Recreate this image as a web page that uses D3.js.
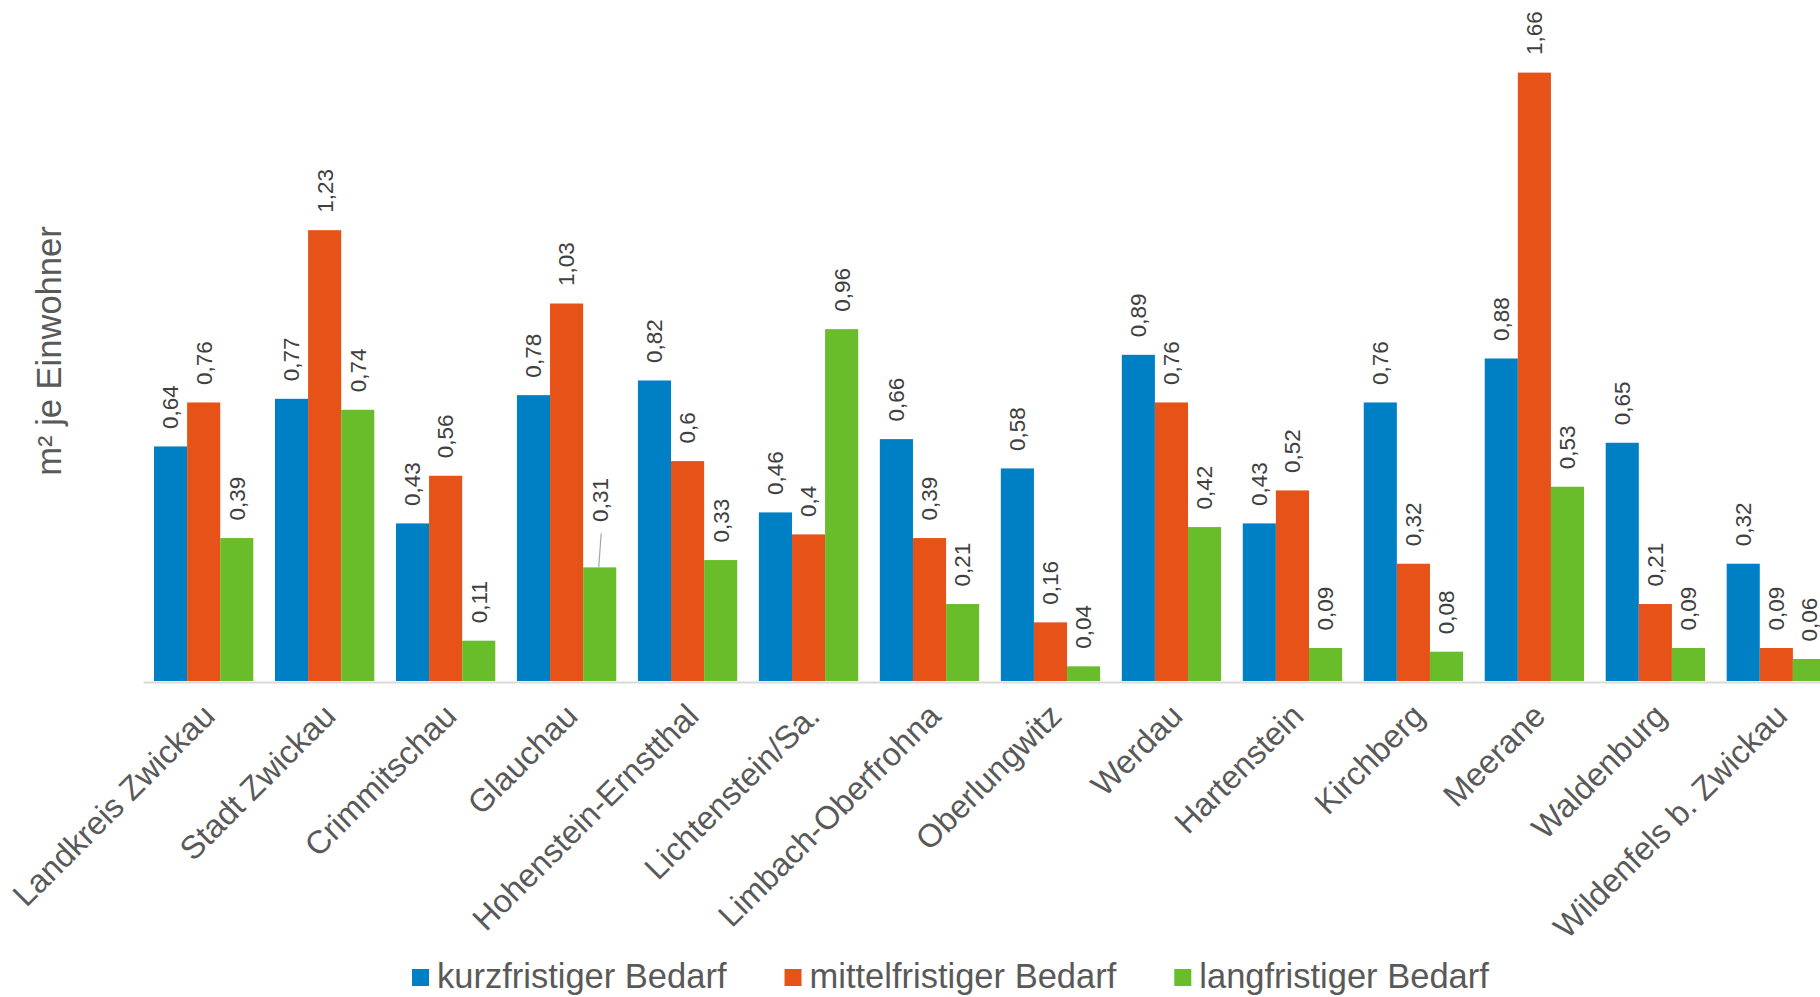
<!DOCTYPE html>
<html>
<head>
<meta charset="utf-8">
<script src="https://cdn.jsdelivr.net/npm/d3@7"></script>
<style>
    body { margin: 0; background: #fff; overflow: hidden; }
    svg { display: block; font-family: "Liberation Sans", Arial, sans-serif; }
</style>
</head>
<body>
<svg id="chart"></svg>
<script>
// Verkaufsfläche je Einwohner nach Bedarfsgruppen
const categories = [
    'Landkreis Zwickau', 'Stadt Zwickau', 'Crimmitschau', 'Glauchau',
    'Hohenstein-Ernstthal', 'Lichtenstein/Sa.', 'Limbach-Oberfrohna', 'Oberlungwitz',
    'Werdau', 'Hartenstein', 'Kirchberg', 'Meerane', 'Waldenburg', 'Wildenfels b. Zwickau'
];
const seriesNames = ['kurzfristiger Bedarf', 'mittelfristiger Bedarf', 'langfristiger Bedarf'];
const kurzfristig = [0.64, 0.77, 0.43, 0.78, 0.82, 0.46, 0.66, 0.58, 0.89, 0.43, 0.76, 0.88, 0.65, 0.32];
const mittelfristig = [0.76, 1.23, 0.56, 1.03, 0.6, 0.4, 0.39, 0.16, 0.76, 0.52, 0.32, 1.66, 0.21, 0.09];
const langfristig = [0.39, 0.74, 0.11, 0.31, 0.33, 0.96, 0.21, 0.04, 0.42, 0.09, 0.08, 0.53, 0.09, 0.06];
const seriesColors = ['#0080c4', '#e65217', '#6abd2a'];
const yTitle = 'm² je Einwohner';

// label that is pushed up with a leader line (category, series index)
const leaderLabels = [{ category: 'Glauchau', series: 2, lift: 28 }];

const width = 1820, height = 997;
const baseY = 681;
const series = [kurzfristig, mittelfristig, langfristig];

const svg = d3.select('#chart')
    .attr('width', width)
    .attr('height', height);

const x0 = d3.scaleBand()
    .domain(categories)
    .range([143, 1837])
    .paddingInner(0.179)
    .paddingOuter(0.091);

const x1 = d3.scaleBand()
    .domain(d3.range(series.length))
    .range([0, x0.bandwidth()]);

const y = d3.scaleLinear()
    .domain([0, 1.8])
    .range([baseY, baseY - 1.8 * 366.5]);

const rows = [];
categories.forEach((c, i) => {
    series.forEach((s, k) => rows.push({ category: c, series: k, value: s[i] }));
});

// bars
svg.append('g')
    .selectAll('rect')
    .data(rows)
    .enter()
    .append('rect')
    .attr('x', d => x0(d.category) + x1(d.series))
    .attr('y', d => y(d.value))
    .attr('width', x1.bandwidth())
    .attr('height', d => y(0) - y(d.value))
    .attr('fill', d => seriesColors[d.series]);

// x axis with rotated category labels
const xAxis = svg.append('g')
    .attr('transform', `translate(0,${baseY + 1})`)
    .call(d3.axisBottom(x0).tickSize(0).tickSizeOuter(0));

xAxis.select('.domain')
    .attr('stroke', '#d9d9d9')
    .attr('stroke-width', 2);

xAxis.selectAll('.tick text')
    .attr('x', 0)
    .attr('y', 0)
    .attr('dy', 0)
    .attr('text-anchor', 'end')
    .attr('transform', 'translate(13,36) rotate(-45)')
    .attr('fill', '#595959')
    .style('font-size', '32.5px')
    .style('font-family', '"Liberation Sans", Arial, sans-serif');

// value labels
const fmt = v => String(v).replace('.', ',');
const liftOf = d => {
    const m = leaderLabels.find(l => l.category === d.category && l.series === d.series);
    return m ? m.lift : 0;
};

const labels = svg.append('g');

labels.selectAll('text')
    .data(rows)
    .enter()
    .append('text')
    .attr('transform', d => {
        const cx = x0(d.category) + x1(d.series) + x1.bandwidth() / 2;
        return `translate(${cx},${y(d.value) - 17.5 - liftOf(d)}) rotate(-90)`;
    })
    .attr('dy', '0.35em')
    .attr('text-anchor', 'start')
    .attr('fill', '#404040')
    .style('font-size', '22.5px')
    .text(d => fmt(d.value));

labels.selectAll('line')
    .data(rows.filter(d => liftOf(d) > 0))
    .enter()
    .append('line')
    .attr('x1', d => x0(d.category) + x1(d.series) + x1.bandwidth() / 2 - 1)
    .attr('x2', d => x0(d.category) + x1(d.series) + x1.bandwidth() / 2 + 1.5)
    .attr('y1', d => y(d.value))
    .attr('y2', d => y(d.value) - 34)
    .attr('stroke', '#a6a6a6')
    .attr('stroke-width', 1.2);

// y axis title
svg.append('text')
    .attr('transform', 'translate(61,351) rotate(-90)')
    .attr('text-anchor', 'middle')
    .attr('fill', '#595959')
    .style('font-size', '34.5px')
    .text(yTitle);

// legend
const legend = svg.append('g').attr('transform', 'translate(412,969)');
let lx = 0;
seriesNames.forEach((name, k) => {
    const item = legend.append('g').attr('transform', `translate(${lx},0)`);
    item.append('rect')
        .attr('width', 17)
        .attr('height', 17)
        .attr('fill', seriesColors[k]);
    const t = item.append('text')
        .attr('x', 25)
        .attr('y', 18.5)
        .attr('fill', '#595959')
        .style('font-size', '34.5px')
        .text(name);
    lx += 25 + t.node().getComputedTextLength() + 58;
});
</script>
</body>
</html>
